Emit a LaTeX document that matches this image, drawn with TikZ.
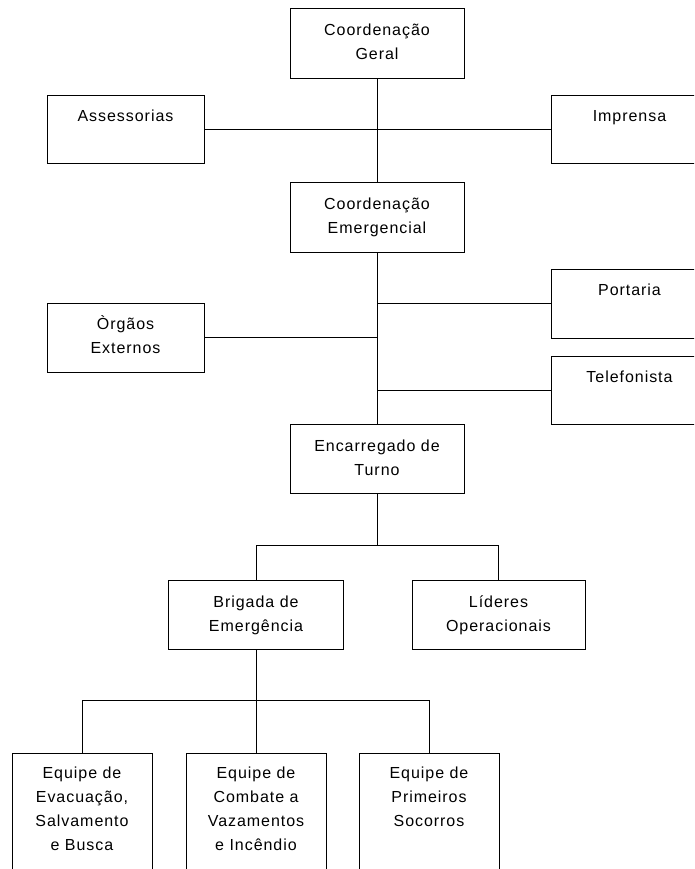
\documentclass[tikz,border=0pt]{standalone}
\usepackage{fontspec}
\setmainfont{Liberation Sans}[LetterSpace=6]
\begin{document}
\begin{tikzpicture}[x=1pt,y=-1pt,
  box/.style={draw=black,line width=1pt,inner sep=0pt,outer sep=0pt,anchor=center},
  link/.style={draw=black,line width=1pt}]
\newcommand{\bxt}[4]{\parbox[c][#2pt][t]{#1pt}{\centering\fontsize{16}{24}\selectfont\rule{0pt}{#3pt}#4\par}}
\clip (0,0) rectangle (694,869);
\fill[white] (0,0) rectangle (694,869);
% level 1
\node[box] (cg) at (377,44) {\bxt{174}{70}{27}{Coordenação\\Geral}};
\node[box] (ass) at (125.5,130) {\bxt{157}{68}{26}{Assessorias}};
\node[box] (imp) at (629.5,130) {\bxt{157}{68}{26}{Imprensa}};
\node[box] (ce) at (377,217) {\bxt{174}{70}{27}{Coordenação\\Emergencial}};
\node[box] (por) at (629.5,303.5) {\bxt{157}{69}{26}{Portaria}};
\node[box] (org) at (125.5,337.5) {\bxt{157}{69}{26}{Òrgãos\\Externos}};
\node[box] (tel) at (629.5,390) {\bxt{157}{68}{26}{Telefonista}};
\node[box] (et) at (377,458.5) {\bxt{174}{69}{27}{Encarregado de\\Turno}};
\node[box] (bri) at (256,614.5) {\bxt{175}{69}{27}{Brigada de\\Emergência}};
\node[box] (lid) at (498.5,614.5) {\bxt{173}{69}{27}{Líderes\\Operacionais}};
\node[box] (eq1) at (82,828) {\bxt{140}{150}{25}{Equipe de\\Evacuação,\\Salvamento\\e Busca}};
\node[box] (eq2) at (256,828) {\bxt{140}{150}{25}{Equipe de\\Combate a\\Vazamentos\\e Incêndio}};
\node[box] (eq3) at (429,828) {\bxt{140}{150}{25}{Equipe de\\Primeiros\\Socorros}};
% connectors
\draw[link] (cg.south) -- (ce.north);
\draw[link] (ass.east) -- (imp.west);
\draw[link] (ce.south) -- (et.north);
\draw[link] (por.west) -- (por.west -| ce.south);
\draw[link] (org.east) -- (org.east -| ce.south);
\draw[link] (tel.west) -- (tel.west -| ce.south);
\coordinate (j1) at (377,545);
\draw[link] (et.south) -- (j1);
\draw[link] (j1) -| (bri.north);
\draw[link] (j1) -| (lid.north);
\coordinate (j2) at (256,700);
\draw[link] (bri.south) -- (j2);
\draw[link] (j2) -| (eq1.north);
\draw[link] (j2) -| (eq3.north);
\draw[link] (j2) -- (eq2.north);
\end{tikzpicture}
\end{document}
